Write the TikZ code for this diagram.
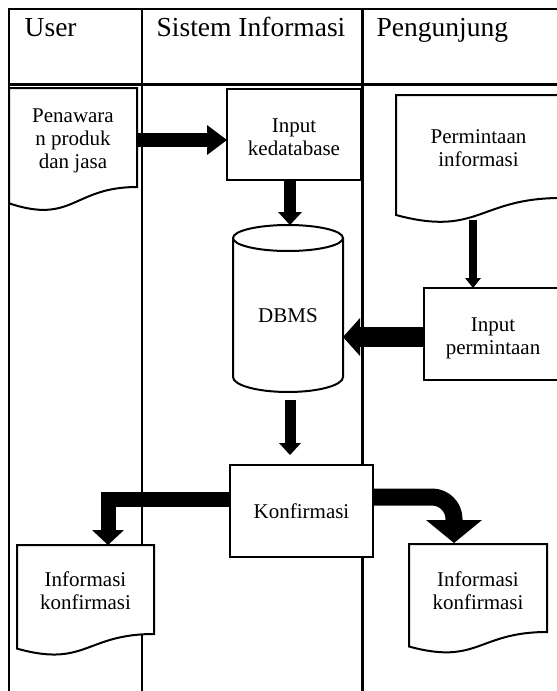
\documentclass[tikz,border=0pt]{standalone}
\usepackage{fontspec}
\setmainfont{Liberation Serif}
\usetikzlibrary{arrows.meta,calc,backgrounds}
\newcommand\bodyfnt{\fontsize{21}{23}\selectfont}
\newcommand\hdrfnt{\fontsize{27.5}{30}\selectfont}
\newcommand\mtext[2]{\raisebox{#1}[0pt][0pt]{\begin{tabular}[t]{@{}c@{}}#2\end{tabular}}}
\newcommand\docoutline[3]{%
  \draw[shapeline, fill=white] (#1.north west) -- (#1.north east) -- (#1.south east)
    .. controls (#1.south) and ($(#1.south)+(0,#2)$) .. ($(#1.south west)+(0,#3)$) -- cycle;}
\begin{document}
\begin{tikzpicture}[x=1pt,y=-1pt,
  lane/.style={line width=2.4pt},
  shapeline/.style={line width=2pt},
  hdr/.style={font=\hdrfnt, inner sep=0pt, anchor=base west},
  procbox/.style={draw, line width=2pt, fill=white, font=\bodyfnt, inner sep=0pt, outer sep=0pt},
  docnode/.style={font=\bodyfnt, inner sep=0pt, outer sep=0pt},
  blkarrow/.style n args={3}{line width=#1, -{Triangle[width=#2,length=#3,line width=0pt]}}
]
\useasboundingbox (0,0) rectangle (557,691);
\clip (0,0) rectangle (557,691);

% headers
\node[hdr] (hUser) at (24.5,36) {User};
\node[hdr] (hSys) at (156.5,36) {Sistem Informasi};
\node[hdr] (hPeng) at (376.5,36) {Pengunjung};

% documents (text nodes; outlines in background)
\node[docnode, minimum width=128pt, minimum height=99pt] (pen) at (73,137.5) {\mtext{15.5pt}{Penawara\\n produk\\dan jasa}};
\node[docnode, minimum width=165pt, minimum height=103pt] (perm) at (478.5,146.5) {\mtext{3.5pt}{Permintaan\\informasi}};
\node[docnode, minimum width=137pt, minimum height=89pt] (ik1) at (85.5,589.5) {\mtext{3.5pt}{Informasi\\konfirmasi}};
\node[docnode, minimum width=138pt, minimum height=88pt] (ik2) at (478,588) {\mtext{2pt}{Informasi\\konfirmasi}};

\begin{pgfonlayer}{background}
  \draw[lane] (8.7,691) -- (8.7,9) -- (557,9);
  \draw[lane] (8.7,84.3) -- (557,84.3);
  \draw[lane] (142,9) -- (142,691);
  \draw[lane] (362.5,9) -- (362.5,691);
  \docoutline{pen}{37.7}{16.3}
  \docoutline{perm}{39.2}{17.0}
  \docoutline{ik1}{33.9}{14.6}
  \docoutline{ik2}{33.5}{14.5}
\end{pgfonlayer}

% DBMS cylinder
\node[minimum width=110pt, minimum height=168pt, inner sep=0pt, outer sep=0pt] (db) at (288,309) {};
\draw[shapeline, fill=white] (233,238) -- (233,377) arc[start angle=180, end angle=360, x radius=55pt, y radius=15pt] -- (343,238);
\draw[shapeline, fill=white] (288,238) ellipse[x radius=55pt, y radius=13pt];
\node[font=\bodyfnt, inner sep=0pt] (dblabel) at (288,315.5) {DBMS};

% process boxes
\node[procbox, minimum width=134pt, minimum height=91pt] (inp) at (294,134.5) {\mtext{2.5pt}{Input\\kedatabase}};
\node[procbox, minimum width=138pt, minimum height=92pt] (inpp) at (493,334) {\mtext{3pt}{Input\\permintaan}};
\node[procbox, minimum width=143pt, minimum height=92pt] (konf) at (301.5,511) {Konfirmasi};

% block arrows
\draw[blkarrow={14pt}{30pt}{20pt}] ($(pen.east)+(0,2.5)$) -- ($(inp.west)+(0,5.5)$);
\draw[blkarrow={12pt}{24pt}{13pt}] ($(inp.south)+(-4,0)$) -- ($(db.north)+(2,0)$);
\draw[blkarrow={8pt}{16pt}{10pt}] ($(perm.south)+(-5.5,22)$) -- ($(inpp.north)+(-20,0)$);
\draw[blkarrow={20pt}{38pt}{17pt}] ($(inpp.west)+(0,3)$) -- ($(inpp.west -| db.east)+(0,3)$);
\draw[blkarrow={11pt}{22pt}{12pt}] ($(db.south)+(2,7)$) -- ($(konf.north -| db.south)+(2,-10)$);
\draw[blkarrow={15pt}{32pt}{15pt}] ($(konf.west)+(0,-11.5)$) -| ($(ik1.north)+(22.5,0)$);
\draw[blkarrow={17pt}{56pt}{23pt}, rounded corners=22pt] ($(konf.east)+(0,-14)$) -| ($(ik2.north)+(-24,-1)$);
\end{tikzpicture}
\end{document}
